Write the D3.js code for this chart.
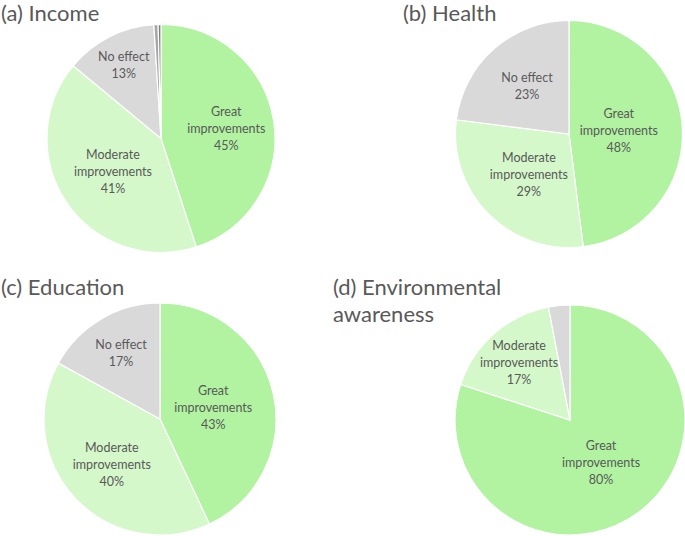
<!DOCTYPE html>
<html><head><meta charset="utf-8">
<script src="https://cdn.jsdelivr.net/npm/d3@7"></script>
<style>body{margin:0;background:#fff}svg{display:block}</style>
</head><body>
<svg id="c" width="685" height="536"></svg>
<script>
const categories = ["Great improvements", "Moderate improvements", "No effect", "Other A", "Other B"];
const titles = [["(a) Income"], ["(b) Health"], ["(c) Education"], ["(d) Environmental", "awareness"]];
const incomeValues = [45, 41, 13, 0.6, 0.4];
const healthValues = [48, 29, 23, 0, 0];
const educationValues = [43, 40, 17, 0, 0];
const environmentValues = [80, 17, 3, 0, 0];
const colors = ["#b1f3a1", "#d5f8cb", "#d9d9d9", "#a6a6a6", "#7f7f7f"];

// layout (positions / label radius fractions)
const panels = [
  {values: incomeValues, cx: 161, cy: 138.5, r: 114, tx: 1, ty: 21, lk: [0.58, 0.51, 0.72]},
  {values: healthValues, cx: 569, cy: 134, r: 113.5, tx: 403, ty: 21, lk: [0.44, 0.5, 0.56]},
  {values: educationValues, cx: 160, cy: 419, r: 116, tx: 1, ty: 295, lk: [0.47, 0.57, 0.66]},
  {values: environmentValues, cx: 570, cy: 420, r: 115, tx: 333, ty: 295, lk: [0.46, 0.67]}
];

const svg = d3.select("#c");
const pie = d3.pie().sort(null).value(d => d.v);

panels.forEach((p, i) => {
  const data = p.values.map((v, j) => ({v, name: categories[j], j}));
  const arcs = pie(data);
  const g = svg.append("g").attr("transform", `translate(${p.cx},${p.cy})`);
  const arc = d3.arc().innerRadius(0).outerRadius(p.r);
  g.selectAll("path").data(arcs.filter(a => a.data.v > 0)).join("path")
    .attr("d", arc).attr("fill", d => colors[d.data.j])
    .attr("stroke", "#fff").attr("stroke-width", 1.2);
  arcs.filter(a => a.data.v >= 5).forEach(a => {
    const k = p.lk[a.data.j];
    const lab = d3.arc().innerRadius(p.r * k).outerRadius(p.r * k);
    const [x, y] = lab.centroid(a);
    const lines = a.data.name === "No effect" ? ["No effect"] : a.data.name.split(" ");
    lines.push(a.data.v + "%");
    const t = g.append("text").attr("text-anchor", "middle")
      .attr("font-family", "Lato, 'Open Sans', sans-serif").attr("font-size", 12.5)
      .attr("fill", "#595959");
    const lh = 17;
    lines.forEach((l, n) => {
      t.append("tspan").attr("x", x).attr("y", y + (n - (lines.length - 1) / 2) * lh + 4.5).text(l);
    });
  });
  const tt = svg.append("text").attr("font-family", "Lato, 'Open Sans', sans-serif")
    .attr("font-size", 22).attr("fill", "#595959");
  titles[i].forEach((l, n) => {
    tt.append("tspan").attr("x", p.tx).attr("y", p.ty + n * 27).text(l);
  });
});
</script>
</body></html>
